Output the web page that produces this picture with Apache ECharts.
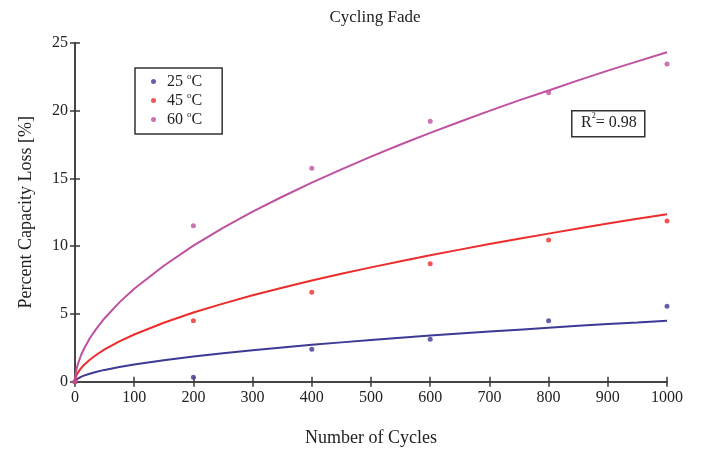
<!DOCTYPE html>
<html>
<head>
<meta charset="utf-8">
<script src="https://cdn.jsdelivr.net/npm/echarts@6/dist/echarts.min.js"></script>
<style>html,body{margin:0;padding:0;background:#fff;}#c{width:701px;height:453px;}</style>
</head>
<body>
<div id="c"></div>
<script>
// Measured points
const pointCycles = [0, 200, 400, 600, 800, 1000];
const loss25 = [0, 0.32, 2.4, 3.13, 4.5, 5.56];
const loss45 = [0, 4.5, 6.6, 8.7, 10.45, 11.85];
const loss60 = [0, 11.5, 15.74, 19.2, 21.3, 23.43];
// Fit curves
const fitCycles = [0, 1, 2, 3, 5, 10, 15, 25, 35, 50, 75, 100, 150, 200, 250, 300, 350, 400, 450, 500, 550, 600, 650, 700, 750, 800, 850, 900, 950, 1000];
const fit25 = [0, 0.10, 0.15, 0.18, 0.24, 0.36, 0.45, 0.59, 0.71, 0.87, 1.08, 1.27, 1.58, 1.86, 2.10, 2.32, 2.53, 2.72, 2.90, 3.07, 3.24, 3.40, 3.55, 3.70, 3.84, 3.98, 4.12, 4.25, 4.37, 4.50];
const fit45 = [0, 0.28, 0.41, 0.51, 0.67, 0.98, 1.23, 1.62, 1.95, 2.38, 2.97, 3.48, 4.35, 5.10, 5.76, 6.37, 6.93, 7.46, 7.96, 8.43, 8.89, 9.32, 9.74, 10.15, 10.54, 10.92, 11.29, 11.66, 12.01, 12.35];
const fit60 = [0, 0.54, 0.80, 1.00, 1.32, 1.93, 2.41, 3.20, 3.84, 4.68, 5.85, 6.85, 8.55, 10.04, 11.34, 12.54, 13.64, 14.68, 15.66, 16.60, 17.49, 18.35, 19.17, 19.97, 20.75, 21.48, 22.22, 22.94, 23.62, 24.30];
const seriesNames = ['25 {s|o}C', '45 {s|o}C', '60 {s|o}C'];
const colors = ['#3c3a95', '#ee2c2c', '#c050a0'];

const zip = (xs, ys) => xs.map((x, i) => [x, ys[i]]);
const serif = 'Liberation Serif';
const axisColor = '#3a3a3a';

const chart = echarts.init(document.getElementById('c'));
const pts = [loss25, loss45, loss60];
const fits = [fit25, fit45, fit60];
const series = [];
fits.forEach((f, i) => {
  series.push({
    name: 'fit' + i, type: 'line', data: zip(fitCycles, f), showSymbol: false,
    smooth: false,
    lineStyle: { color: colors[i], width: 2 }, z: 2, silent: true
  });
});
pts.forEach((p, i) => {
  series.push({
    name: seriesNames[i], type: 'scatter', data: zip(pointCycles, p),
    symbol: 'circle', symbolSize: 5, itemStyle: { color: colors[i] }, z: 3
  });
});

const axisCommon = {
  axisLine: { lineStyle: { color: axisColor, width: 1.5 } },
  axisTick: { inside: true, length: 5, lineStyle: { color: axisColor, width: 1.5 } },
  splitLine: { show: false }
};

chart.setOption({
  animation: false,
  backgroundColor: '#fff',
  title: {
    text: 'Cycling Fade', left: 370, top: 4, textAlign: 'center',
    textStyle: { fontFamily: serif, fontSize: 17, fontWeight: 'normal', color: '#222' }
  },
  grid: { left: 75, right: 34, top: 42.7, bottom: 71.3 },
  legend: {
    data: seriesNames.map(n => ({ name: n, icon: 'circle' })),
    orient: 'vertical', left: 135, top: 68,
    itemWidth: 5, itemHeight: 5, itemGap: 0,
    padding: [4, 20, 5, 16],
    borderColor: '#333', borderWidth: 1.5,
    textStyle: {
      fontFamily: serif, fontSize: 16, color: '#222', padding: [0, 0, 0, 6], lineHeight: 19,
      rich: { s: { fontFamily: serif, fontSize: 9, verticalAlign: 'top', lineHeight: 8 } }
    }
  },
  xAxis: [
    Object.assign({
      type: 'value', min: 0, max: 1000, interval: 100, position: 'bottom',
      name: 'Number of Cycles', nameLocation: 'middle', nameGap: 48,
      nameTextStyle: { fontFamily: serif, fontSize: 18, color: '#222' },
      axisLabel: { fontFamily: serif, fontSize: 16, color: '#222', margin: 8, formatter: v => String(v) }
    }, axisCommon),
    Object.assign({
      type: 'value', min: 0, max: 1000, interval: 100, position: 'top',
      axisLabel: { show: false }
    }, axisCommon)
  ],
  yAxis: [
    Object.assign({
      type: 'value', min: 0, max: 25, interval: 5, position: 'left',
      name: 'Percent Capacity Loss [%]', nameLocation: 'middle', nameGap: 40,
      nameTextStyle: { fontFamily: serif, fontSize: 18, color: '#222' },
      axisLabel: { fontFamily: serif, fontSize: 16, color: '#222', margin: 7 }
    }, axisCommon),
    Object.assign({
      type: 'value', min: 0, max: 25, interval: 5, position: 'right',
      axisLabel: { show: false }
    }, axisCommon)
  ],
  graphic: [
    {
      type: 'rect', left: 571, top: 110, shape: { width: 73, height: 26 },
      style: { fill: '#fff', stroke: '#333', lineWidth: 1.5 }, z: 10
    },
    {
      type: 'text', left: 581, top: 112, z: 11,
      style: {
        text: 'R{s|2}= 0.98', fontFamily: serif, fontSize: 16, fill: '#222', lineHeight: 22,
        rich: { s: { fontFamily: serif, fontSize: 8, verticalAlign: 'top', lineHeight: 10 } }
      }
    }
  ],
  series: series
});
</script>
</body>
</html>
